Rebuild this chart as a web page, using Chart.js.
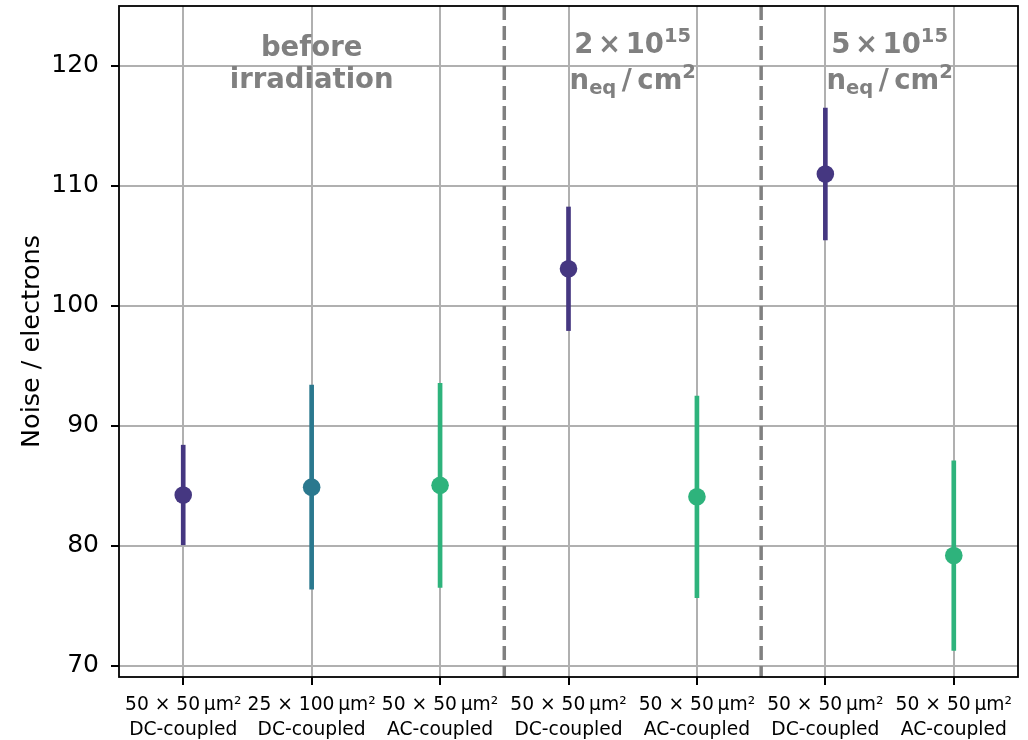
<!DOCTYPE html>
<html>
<head>
<meta charset="utf-8">
<script src="https://cdn.jsdelivr.net/npm/chart.js@4/dist/chart.umd.min.js"></script>
<style>
  html, body { margin: 0; padding: 0; background: #fff; }
  #wrap { width: 1028px; height: 740px; position: relative; }
</style>
</head>
<body>
<div id="wrap"><canvas id="noiseChart"></canvas></div>
<script>
// sensor geometry and coupling for each measurement
const pitchLabels = ['50 × 50\u2009µm²', '25 × 100\u2009µm²', '50 × 50\u2009µm²', '50 × 50\u2009µm²', '50 × 50\u2009µm²', '50 × 50\u2009µm²', '50 × 50\u2009µm²'];
const couplingLabels = ['DC-coupled', 'DC-coupled', 'AC-coupled', 'DC-coupled', 'AC-coupled', 'DC-coupled', 'AC-coupled'];

// noise (electrons) and its uncertainty
const noiseValues = [84.25, 84.9, 85.05, 103.1, 84.1, 111.0, 79.2];
const noiseErrors = [4.15, 8.5, 8.5, 5.15, 8.4, 5.5, 7.9];

const yTicks = [70, 80, 90, 100, 110, 120];

// region headings (fluence groups)
const regionTitles = ['before', 'irradiation'];
const fluenceMantissa = ['2', '5'];

const pointColors = ['#453781', '#2a788e', '#2eb37c', '#453781', '#2eb37c', '#453781', '#2eb37c'];

const errorRanges = noiseValues.map((v, i) => [v - noiseErrors[i], v + noiseErrors[i]]);

const FONT = 'DejaVu Sans';
const GREY = '#808080';

function drawPieces(ctx, pieces, cx, baseY) {
    let total = 0;
    pieces.forEach(p => {
        ctx.font = 'bold ' + p.size + 'px "' + FONT + '"';
        p.w = ctx.measureText(p.text).width;
        total += p.w;
    });
    let x = cx - total / 2;
    pieces.forEach(p => {
        ctx.font = 'bold ' + p.size + 'px "' + FONT + '"';
        ctx.fillText(p.text, x, baseY + (p.dy || 0));
        x += p.w;
    });
}

const extrasPlugin = {
    id: 'extras',
    beforeDatasetsDraw(chart) {
        const {ctx, chartArea, scales: {x}} = chart;
        ctx.save();
        ctx.strokeStyle = GREY;
        ctx.lineWidth = 3.5;
        ctx.setLineDash([14, 6]);
        [2.5, 4.5].forEach(pos => {
            const px = x.getPixelForValue(pos);
            ctx.beginPath();
            ctx.moveTo(px, chartArea.top);
            ctx.lineTo(px, chartArea.bottom);
            ctx.stroke();
        });
        ctx.restore();
    },
    afterDatasetsDraw(chart) {
        const {ctx, scales: {x, y}} = chart;
        ctx.save();
        ctx.fillStyle = GREY;
        ctx.textAlign = 'left';
        ctx.textBaseline = 'alphabetic';
        // before irradiation
        const c1 = x.getPixelForValue(1);
        drawPieces(ctx, [{text: regionTitles[0], size: 27.5}], c1, y.getPixelForValue(120.8));
        drawPieces(ctx, [{text: regionTitles[1], size: 27.5}], c1, y.getPixelForValue(118.15));
        // irradiated groups
        [3.5, 5.5].forEach((pos, i) => {
            const cx = x.getPixelForValue(pos);
            drawPieces(ctx, [
                {text: fluenceMantissa[i] + '\u2006×\u200610', size: 27.5},
                {text: '15', size: 19.5, dy: -11}
            ], cx, y.getPixelForValue(121.05));
            drawPieces(ctx, [
                {text: 'n', size: 27.5},
                {text: 'eq', size: 19.5, dy: 5},
                {text: '\u2009/\u2009cm', size: 27.5},
                {text: '2', size: 19.5, dy: -11}
            ], cx, y.getPixelForValue(118.05));
        });
        ctx.restore();
    },
    afterDraw(chart) {
        const {ctx, chartArea: a} = chart;
        ctx.save();
        ctx.strokeStyle = '#000';
        ctx.lineWidth = 1.8;
        ctx.strokeRect(a.left, a.top, a.right - a.left, a.bottom - a.top);
        ctx.restore();
    }
};

const ctx = document.getElementById('noiseChart').getContext('2d');
const chart = new Chart(ctx, {
    type: 'bar',
    data: {
        labels: pitchLabels,
        datasets: [
            {
                type: 'line',
                label: 'Noise',
                data: noiseValues,
                showLine: false,
                pointRadius: 8.8,
                pointHoverRadius: 8.8,
                pointBorderWidth: 0,
                pointBackgroundColor: pointColors,
                pointBorderColor: pointColors,
                order: 0
            },
            {
                type: 'bar',
                label: 'Uncertainty',
                data: errorRanges,
                backgroundColor: pointColors,
                borderWidth: 0,
                barThickness: 4,
                order: 1
            }
        ]
    },
    options: {
        responsive: true,
        maintainAspectRatio: false,
        animation: false,
        layout: { autoPadding: false, padding: { left: 0, right: 10, top: 6, bottom: 0 } },
        plugins: {
            legend: { display: false },
            tooltip: { enabled: false }
        },
        scales: {
            x: {
                offset: true,
                grid: {
                    offset: false,
                    color: '#b0b0b0',
                    lineWidth: 2,
                    tickColor: '#000',
                    tickLength: 8,
                    tickWidth: 2
                },
                border: { display: false },
                ticks: {
                    color: '#000',
                    padding: 8,
                    autoSkip: false,
                    maxRotation: 0,
                    minRotation: 0,
                    font: { family: FONT, size: 18.7, lineHeight: 1.33 },
                    callback: (val, i) => [pitchLabels[i], couplingLabels[i]]
                },
                afterFit: scale => {
                    scale.height = 63;
                    scale.paddingLeft = 0;
                    scale.paddingRight = 0;
                }
            },
            y: {
                min: 69.08,
                max: 125.0,
                afterBuildTicks: scale => { scale.ticks = yTicks.map(v => ({value: v})); },
                grid: {
                    color: '#b0b0b0',
                    lineWidth: 2,
                    tickColor: '#000',
                    tickLength: 8,
                    tickWidth: 2
                },
                border: { display: false },
                ticks: {
                    color: '#000',
                    padding: 12,
                    font: { family: FONT, size: 25 }
                },
                title: {
                    display: true,
                    text: 'Noise / electrons',
                    color: '#000',
                    font: { family: FONT, size: 25.5 },
                    padding: { top: 17, bottom: 0 }
                },
                afterFit: scale => {
                    scale.width = 119;
                    scale.paddingTop = 0;
                    scale.paddingBottom = 0;
                }
            }
        }
    },
    plugins: [extrasPlugin]
});
</script>
</body>
</html>
